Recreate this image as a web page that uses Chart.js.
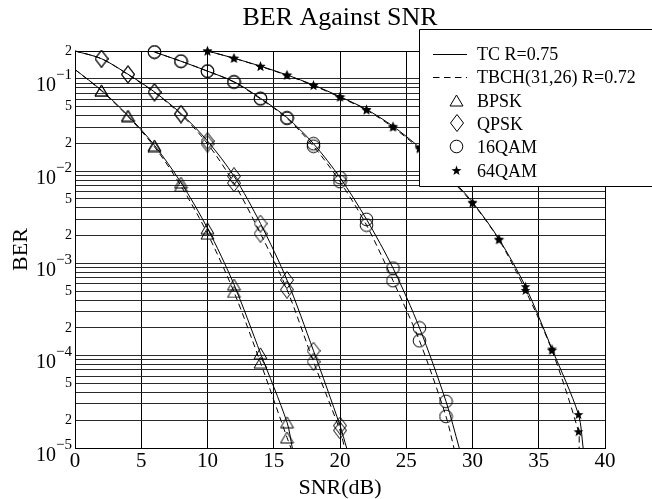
<!DOCTYPE html>
<html>
<head>
<meta charset="utf-8">
<script src="https://cdn.jsdelivr.net/npm/chart.js@4.4.1/dist/chart.umd.min.js"></script>
<style>
  html, body { margin: 0; padding: 0; background: #fff; }
</style>
</head>
<body>
<canvas id="chart" width="652" height="499"></canvas>
<script>
// values (SNR in dB, BER)
const bpskSnrTc = [0, 2, 4, 6, 8, 10, 12, 14, 16, 16.4];
const bpskTc = [0.126, 0.075, 0.040, 0.019, 0.0075, 0.0024, 5.9e-4, 1.06e-4, 1.9e-5, 1e-5];
const bpskSnrTbch = [0, 2, 4, 6, 8, 10, 12, 14, 16, 16.3];
const bpskTbch = [0.126, 0.074, 0.039, 0.0183, 0.0069, 0.0021, 4.9e-4, 8.4e-5, 1.3e-5, 1e-5];

const qpskSnrTc = [0, 2, 4, 6, 8, 10, 12, 14, 16, 18, 20, 20.5];
const qpskTc = [0.2, 0.165, 0.112, 0.072, 0.042, 0.0212, 0.0088, 0.0027, 6.6e-4, 1.13e-4, 1.75e-5, 1e-5];
const qpskSnrTbch = [0, 2, 4, 6, 8, 10, 12, 14, 16, 18, 20, 20.35];
const qpskTbch = [0.2, 0.165, 0.111, 0.071, 0.041, 0.0198, 0.0074, 0.0021, 5.2e-4, 8.6e-5, 1.55e-5, 1e-5];

const qam16SnrTc = [6, 8, 10, 12, 14, 16, 18, 20, 22, 24, 26, 28, 29];
const qam16Tc = [0.195, 0.155, 0.121, 0.093, 0.0615, 0.038, 0.0198, 0.0085, 0.003, 8.9e-4, 2.0e-4, 3.2e-5, 1e-5];
const qam16SnrTbch = [6, 8, 10, 12, 14, 16, 18, 20, 22, 24, 26, 28, 28.6];
const qam16Tbch = [0.195, 0.155, 0.121, 0.092, 0.0605, 0.0372, 0.0186, 0.0077, 0.0026, 6.5e-4, 1.45e-4, 2.2e-5, 1e-5];

const qam64SnrTc = [10, 12, 14, 16, 18, 20, 22, 24, 26, 28, 30, 32, 34, 36, 38, 38.35];
const qam64Tc = [0.2, 0.167, 0.137, 0.11, 0.0855, 0.064, 0.0466, 0.0306, 0.018, 0.0095, 0.0046, 0.00183, 5.6e-4, 1.18e-4, 2.3e-5, 1e-5];
const qam64SnrTbch = [10, 12, 14, 16, 18, 20, 22, 24, 26, 28, 30, 32, 34, 36, 38, 38.05];
const qam64Tbch = [0.2, 0.167, 0.136, 0.109, 0.0845, 0.063, 0.0458, 0.0298, 0.0174, 0.0091, 0.0045, 0.0018, 5.1e-4, 1.14e-4, 1.5e-5, 1e-5];

const yLabelValues = [0.2, 0.1, 0.05, 0.02, 0.01, 0.005, 0.002, 1e-3, 5e-4, 2e-4, 1e-4, 5e-5, 2e-5, 1e-5];
const yLabelTexts = ['2', '10^-1', '5', '2', '10^-2', '5', '2', '10^-3', '5', '2', '10^-4', '5', '2', '10^-5'];
const yDecades = [-5, -4, -3, -2];
const yMantissas = [1, 2, 3, 4, 5, 6, 7, 8, 9];
const legendLabels = ['TC R=0.75', 'TBCH(31,26) R=0.72', 'BPSK', 'QPSK', '16QAM', '64QAM'];
const chartTitle = 'BER Against SNR';

const serif = "'Liberation Serif', 'Times New Roman', serif";
const dash = [6, 4];

const yGridValues = [];
yDecades.forEach((e) => yMantissas.forEach((m) => yGridValues.push(Number((m * Math.pow(10, e)).toPrecision(3)))));
yGridValues.push(0.1, 0.2);

function markerCanvas(w, h, draw) {
  const c = document.createElement('canvas');
  c.width = w;
  c.height = h;
  const g = c.getContext('2d');
  g.strokeStyle = '#000';
  g.fillStyle = '#000';
  g.lineWidth = 1;
  draw(g);
  return c;
}

const triangle = markerCanvas(15, 13, (g) => {
  g.beginPath();
  g.moveTo(7.5, 1);
  g.lineTo(14, 12);
  g.lineTo(1, 12);
  g.closePath();
  g.stroke();
});
const diamond = markerCanvas(14, 18, (g) => {
  g.beginPath();
  g.moveTo(7, 0.5);
  g.lineTo(13.5, 9);
  g.lineTo(7, 17.5);
  g.lineTo(0.5, 9);
  g.closePath();
  g.stroke();
});
const circle = markerCanvas(15, 15, (g) => {
  g.beginPath();
  g.arc(7.5, 7.5, 6.3, 0, Math.PI * 2);
  g.stroke();
});
const star = markerCanvas(11, 11, (g) => {
  g.beginPath();
  for (let i = 0; i < 10; i++) {
    const r = i % 2 === 0 ? 5.2 : 2.1;
    const a = -Math.PI / 2 + i * Math.PI / 5;
    const px = 5.5 + r * Math.cos(a);
    const py = 5.8 + r * Math.sin(a);
    if (i === 0) g.moveTo(px, py); else g.lineTo(px, py);
  }
  g.closePath();
  g.fill();
});

// markers sit on the even dB points only; the curve ends carry none
const hasMarker = (c) => c.raw && c.raw.x > 0 && c.raw.x % 2 === 0;

function series(label, xs, ys, marker, dashed) {
  return {
    label,
    data: xs.map((x, i) => ({ x, y: ys[i] })),
    borderColor: '#000',
    borderWidth: 1,
    borderDash: dashed ? dash : [],
    backgroundColor: 'transparent',
    pointStyle: marker,
    pointRadius: (c) => (hasMarker(c) ? 6 : 0),
    tension: 0.3,
    fill: false,
    clip: false
  };
}

const decorations = {
  id: 'decorations',
  afterDraw(chart) {
    const { ctx, chartArea: a, scales } = chart;
    ctx.save();

    // plot box
    ctx.strokeStyle = '#000';
    ctx.lineWidth = 1;
    ctx.strokeRect(Math.round(a.left) + 0.5, Math.round(a.top) + 0.5,
      Math.round(a.right - a.left), Math.round(a.bottom - a.top));

    // y tick labels with superscripts
    ctx.fillStyle = '#000';
    ctx.textAlign = 'right';
    yLabelValues.forEach((v, i) => {
      const y = scales.y.getPixelForValue(v);
      const t = yLabelTexts[i];
      if (t.startsWith('10^')) {
        const sup = '\u2212' + t.slice(4);
        ctx.font = `15px ${serif}`;
        ctx.textBaseline = 'alphabetic';
        const sw = ctx.measureText(sup).width;
        ctx.fillText(sup, 72, y + 0.5);
        ctx.font = `20px ${serif}`;
        ctx.fillText('10', 72 - sw, y + 12.5);
      } else {
        ctx.font = `14px ${serif}`;
        ctx.textBaseline = 'middle';
        ctx.fillText(t, 72, y);
      }
    });

    // title
    ctx.font = `26px ${serif}`;
    ctx.textAlign = 'center';
    ctx.textBaseline = 'alphabetic';
    ctx.fillText(chartTitle, (a.left + a.right) / 2, 25);

    // legend box
    const lx = 419.5, ly = 29.5, lb = 186.5, rx = chart.width + 2;
    ctx.fillStyle = '#fff';
    ctx.fillRect(lx, ly, rx - lx, lb - ly);
    ctx.strokeStyle = '#000';
    ctx.beginPath();
    ctx.moveTo(rx, ly);
    ctx.lineTo(lx, ly);
    ctx.lineTo(lx, lb);
    ctx.lineTo(rx, lb);
    ctx.stroke();

    const markers = [null, null, triangle, diamond, circle, star];
    ctx.font = `18px ${serif}`;
    ctx.textAlign = 'left';
    ctx.fillStyle = '#000';
    legendLabels.forEach((label, i) => {
      const y = 53.5 + i * 23.3;
      if (i < 2) {
        ctx.setLineDash(i === 1 ? [6.5, 4.5] : []);
        ctx.beginPath();
        ctx.moveTo(433, Math.round(y) + 0.5);
        ctx.lineTo(467, Math.round(y) + 0.5);
        ctx.stroke();
        ctx.setLineDash([]);
      } else {
        const m = markers[i];
        ctx.drawImage(m, Math.round(456.7 - m.width / 2), Math.round(y - m.height / 2));
      }
      ctx.fillText(label, 477, y + 6.5);
    });

    ctx.restore();
  }
};

new Chart(document.getElementById('chart'), {
  type: 'line',
  data: {
    datasets: [
      series('BPSK TC', bpskSnrTc, bpskTc, triangle, false),
      series('BPSK TBCH', bpskSnrTbch, bpskTbch, triangle, true),
      series('QPSK TC', qpskSnrTc, qpskTc, diamond, false),
      series('QPSK TBCH', qpskSnrTbch, qpskTbch, diamond, true),
      series('16QAM TC', qam16SnrTc, qam16Tc, circle, false),
      series('16QAM TBCH', qam16SnrTbch, qam16Tbch, circle, true),
      series('64QAM TC', qam64SnrTc, qam64Tc, star, false),
      series('64QAM TBCH', qam64SnrTbch, qam64Tbch, star, true)
    ]
  },
  options: {
    responsive: false,
    animation: false,
    events: [],
    devicePixelRatio: 1,
    layout: { padding: { top: 51, right: 47, left: 0, bottom: 0 } },
    plugins: {
      legend: { display: false },
      title: { display: false },
      tooltip: { enabled: false }
    },
    scales: {
      x: {
        type: 'linear',
        min: 0,
        max: 40,
        border: { display: false },
        grid: { color: '#000', lineWidth: 1, drawTicks: false },
        ticks: {
          stepSize: 5,
          color: '#000',
          padding: 1,
          maxRotation: 0,
          autoSkip: false,
          font: { family: serif, size: 21 }
        },
        title: {
          display: true,
          text: 'SNR(dB)',
          color: '#000',
          padding: 0,
          font: { family: serif, size: 22, lineHeight: 1 }
        },
        afterFit: (scale) => { scale.height = 51; }
      },
      y: {
        type: 'logarithmic',
        min: 1e-5,
        max: 0.2,
        border: { display: false },
        grid: { color: '#2a2a2a', lineWidth: 1, drawTicks: false },
        ticks: { display: false },
        afterBuildTicks: (scale) => { scale.ticks = yGridValues.map((v) => ({ value: v })); },
        title: {
          display: true,
          text: 'BER',
          color: '#000',
          padding: { top: 10, bottom: 0 },
          font: { family: serif, size: 22, lineHeight: 1 }
        },
        afterFit: (scale) => { scale.width = 75; }
      }
    }
  },
  plugins: [decorations]
});
</script>
</body>
</html>
